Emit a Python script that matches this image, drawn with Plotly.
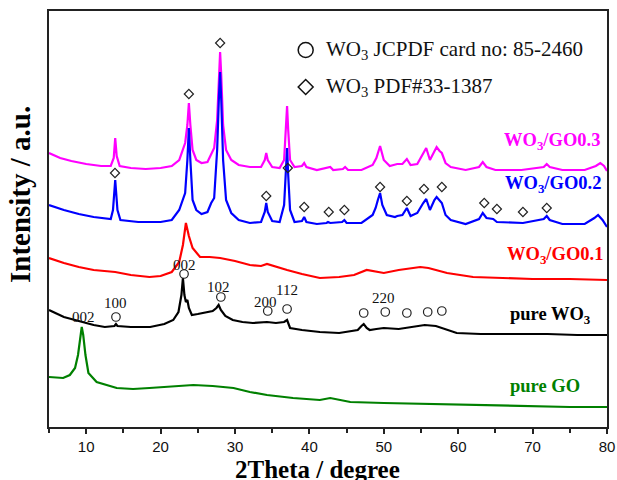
import plotly.graph_objects as go

# ---------------- data (2Theta in degrees, intensity in a.u., offset stacked) ----------------
go03_x = [5.0, 6.5, 8, 10, 12, 13.3, 13.7, 13.9, 14.1, 14.5, 16, 18, 20, 21.5, 22.5, 23.0, 23.3, 23.6, 23.8, 24.0,
          24.3, 24.8, 25.5, 26.3, 26.8, 27.2, 27.6, 27.85, 28.0, 28.15, 28.4, 28.8, 29.5, 30.5, 32, 33.5, 34.0, 34.2,
          34.4, 35, 36, 36.6, 36.85, 37.0, 37.15, 37.4, 38, 39.0, 39.3, 39.6, 41, 42.5, 42.8, 43.2, 44.5, 44.8, 45.2,
          47, 48.5, 49.0, 49.5, 50.0, 50.8, 51.8, 52.5, 53.1, 53.6, 54.5, 55.3, 55.7, 56.2, 56.8, 57.1, 57.5, 57.8,
          58.3, 59, 61, 62.8, 63.3, 63.8, 65, 68.5, 71.5, 71.9, 72.3, 74, 77, 78.5, 79.1, 79.6, 80]
go03_y = [274, 269, 266, 263, 261, 261, 269, 289, 271, 261, 259, 258, 259, 261, 267, 277, 284, 302, 324, 302,
          277, 267, 264, 265, 272, 279, 307, 357, 375, 352, 302, 277, 267, 262, 260, 260, 267, 274,
          267, 260, 259, 267, 297, 321, 297, 267, 260, 261, 264, 260, 257, 259, 260, 257, 258, 260, 257,
          257, 262, 269, 281, 267, 261, 263, 263, 268, 262, 263, 273, 279, 267, 275, 280, 276, 274,
          264, 260, 257, 260, 265, 260, 257, 257, 260, 263, 260, 257, 257, 261, 264, 261, 256]

go02_x = [5, 7, 9, 11, 13.3, 13.6, 13.9, 14.2, 14.6, 17, 20, 21.5, 22.5, 23.0, 23.3, 23.6, 23.8, 24.0, 24.3, 24.8,
          25.5, 26.3, 26.8, 27.2, 27.6, 27.85, 28.0, 28.15, 28.4, 28.8, 29.5, 30.5, 32, 33.5, 34.0, 34.2, 34.4, 35,
          36, 36.6, 36.85, 37.0, 37.15, 37.4, 38, 39.0, 39.3, 39.6, 41, 42.3, 42.5, 42.8, 44.4, 44.7, 45.0, 47, 48.5,
          48.9, 49.2, 49.5, 49.8, 50.4, 51.5, 51.8, 52.5, 53.1, 53.6, 54.5, 55.3, 55.7, 56.2, 56.8, 57.1, 57.5, 57.8,
          58.3, 59, 61, 62.8, 63.3, 63.8, 64.7, 65.2, 68.7, 71.5, 71.9, 72.3, 74, 77, 78.3, 78.8, 79.4, 80]
go02_y = [222, 217, 213, 210, 208, 217, 247, 217, 207, 205, 205, 207, 217, 227, 234, 267, 299, 267, 227, 217,
          213, 215, 224, 229, 277, 332, 355, 327, 267, 227, 214, 207, 204, 205, 215, 224, 215, 206,
          205, 222, 257, 279, 252, 217, 205, 206, 210, 205, 203, 204, 205, 204, 205, 207, 204, 204, 212,
          219, 227, 234, 222, 212, 210, 211, 212, 219, 211, 214, 224, 228, 217, 227, 230, 227, 224,
          212, 207, 203, 208, 214, 209, 208, 205, 204, 208, 211, 207, 203, 203, 209, 212, 207, 200]

go01_x = [5, 7, 9, 11, 13.9, 16, 18.5, 20, 21.5, 22.5, 23.0, 23.4, 23.8, 24.3, 25.3, 26.6, 28, 30, 32, 33.5, 34.3,
          35.5, 37, 39, 41.4, 44, 46, 47.7, 49, 50, 52, 54.9, 56, 58.5, 62, 66, 70, 75, 80]
go01_y = [169, 164, 160, 157, 155, 152, 150, 151, 155, 165, 182, 204, 191, 179, 170, 170, 169, 166, 162, 161, 163,
          160, 157, 153, 149, 150, 152, 157, 155, 154, 157, 160, 159, 154, 150, 149, 148, 148, 147]

wo3_x = [5, 7, 9, 11, 12.5, 13.8, 14.0, 14.2, 16, 18.6, 20.5, 21.7, 22.4, 22.8, 23.0, 23.2, 23.4, 23.6, 23.8, 24.2,
         25, 26.2, 27.0, 27.5, 27.8, 28.1, 28.7, 29.7, 31, 32.4, 34.3, 35.5, 36.6, 37.0, 37.4, 39, 41.4, 44, 46.5,
         47.0, 47.3, 47.7, 48.1, 49, 50, 52, 54, 55.5, 57, 57.9, 59, 59.8, 63, 67, 72, 76, 80]
wo3_y = [117, 110, 106, 102, 100, 101, 103, 101, 100, 100, 103, 107, 115, 132, 149, 132, 125, 127, 119, 112,
         113, 115, 116, 119, 122, 117, 111, 107, 105, 104, 105, 104, 105, 107, 99, 97, 95, 94, 97,
         101, 103, 99, 97, 98, 99, 98, 100, 102, 101, 99, 96, 94, 93, 93, 93, 92, 92]

go_x = [5, 6.9, 7.8, 8.5, 8.9, 9.2, 9.4, 9.6, 9.9, 10.3, 11.4, 14.1, 16.3, 18.5, 20.8, 24.4, 27, 29.8, 32, 34.3,
        37.8, 41.4, 42.8, 45.5, 50, 56.6, 60, 65.6, 70, 75, 80]
go_y = [50, 49, 52, 59, 72, 92, 100, 92, 72, 54, 45, 39, 38, 39, 40, 42, 41, 39, 35, 32,
        29, 27, 29, 25, 24, 23, 22, 21, 21, 20, 20]

# reference peak markers
diamond_x = [13.87, 23.8, 28.0, 34.2, 37.1, 39.3, 42.6, 44.7, 49.5, 53.1, 55.4, 57.8, 63.5, 65.2, 68.7, 71.9]
diamond_y = [254, 333, 384, 231, 259, 220, 215, 217, 240, 226, 238, 240, 224, 218, 215, 219]
circle_x = [23.15, 28.1, 14.0, 34.4, 37.0, 47.3, 50.2, 53.1, 55.9, 57.8]
circle_y = [153, 130, 110, 116, 118, 114, 115, 114, 115, 116]

hkl_text = ["002", "102", "200", "112", "100", "002", "220"]
hkl_x = [23.2, 27.8, 34.1, 37.05, 13.9, 9.6, 49.9]
hkl_y = [162, 140, 125.5, 137, 124, 110.5, 129]

series_names = ["WO<sub>3</sub>/GO0.3", "WO<sub>3</sub>/GO0.2", "WO<sub>3</sub>/GO0.1", "pure WO<sub>3</sub>", "pure GO"]
series_colors = ["#FF00FF", "#0000FF", "#FF0000", "#000000", "#008000"]
label_x = [79.3, 79.5, 79.7, 78.1, 76.6]
label_y = [286, 243, 172, 112, 41]

x_ticks = [10, 20, 30, 40, 50, 60, 70, 80]

SERIF = "Liberation Serif, Times New Roman, serif"
SANS = "Liberation Sans, Arial, sans-serif"

fig = go.Figure()
for xs, ys, col in zip([go03_x, go02_x, go01_x, wo3_x, go_x],
                       [go03_y, go02_y, go01_y, wo3_y, go_y], series_colors):
    fig.add_trace(go.Scatter(x=xs, y=ys, mode="lines", line=dict(color=col, width=2.2),
                             showlegend=False, hoverinfo="skip"))

fig.add_trace(go.Scatter(x=diamond_x, y=diamond_y, mode="markers",
                         marker=dict(symbol="diamond-open", size=7, color="#222", line=dict(width=1.2)),
                         showlegend=False))
fig.add_trace(go.Scatter(x=circle_x, y=circle_y, mode="markers",
                         marker=dict(symbol="circle-open", size=8.5, color="#222", line=dict(width=1.2)),
                         showlegend=False))

# legend symbols
fig.add_trace(go.Scatter(x=[39.5], y=[377], mode="markers",
                         marker=dict(symbol="circle-open", size=15, color="#111", line=dict(width=1.5)),
                         showlegend=False))
fig.add_trace(go.Scatter(x=[39.5], y=[340], mode="markers",
                         marker=dict(symbol="diamond-open", size=11.5, color="#111", line=dict(width=1.5)),
                         showlegend=False))

annotations = []
annotations.append(dict(x=41.9, y=377, xref="x", yref="y", xanchor="left", yanchor="middle", showarrow=False,
                        text="WO<sub>3</sub> JCPDF card no: 85-2460", font=dict(family=SERIF, size=21, color="#111")))
annotations.append(dict(x=41.9, y=340, xref="x", yref="y", xanchor="left", yanchor="middle", showarrow=False,
                        text="WO<sub>3</sub> PDF#33-1387", font=dict(family=SERIF, size=21, color="#111")))

for t, hx, hy in zip(hkl_text, hkl_x, hkl_y):
    annotations.append(dict(x=hx, y=hy, xref="x", yref="y", xanchor="center", yanchor="middle", showarrow=False,
                            text=t, font=dict(family=SERIF, size=15, color="#111")))

for name, col, lx, ly in zip(series_names, series_colors, label_x, label_y):
    annotations.append(dict(x=lx, y=ly, xref="x", yref="y", xanchor="right", yanchor="middle", showarrow=False,
                            text="<b>" + name + "</b>", font=dict(family=SERIF, size=18.5, color=col)))

annotations.append(dict(x=-0.052, y=0.56, xref="paper", yref="paper", xanchor="center", yanchor="middle",
                        showarrow=False, textangle=-90, text="<b>Intensity / a.u.</b>",
                        font=dict(family=SERIF, size=29, color="#000")))
annotations.append(dict(x=0.482, y=-0.103, xref="paper", yref="paper", xanchor="center", yanchor="middle",
                        showarrow=False, text="<b>2Theta / degree</b>",
                        font=dict(family=SERIF, size=25, color="#000")))

fig.update_layout(
    width=617, height=480,
    margin=dict(l=49, r=10, t=11, b=53, autoexpand=False),
    paper_bgcolor="white", plot_bgcolor="white",
    annotations=annotations,
    xaxis=dict(range=[5, 80], tickvals=x_ticks, ticks="outside", ticklen=5, tickwidth=1.5, tickcolor="#222",
               showline=True, linecolor="#222", linewidth=2, mirror=True, showgrid=False, zeroline=False,
               automargin=False,
               tickfont=dict(family=SANS, size=15, color="#111"),
               minor=dict(tickvals=[5, 15, 25, 35, 45, 55, 65, 75], ticks="outside", ticklen=4,
                          tickwidth=1.5, tickcolor="#222")),
    yaxis=dict(range=[0, 416], showticklabels=False, ticks="", showline=True, linecolor="#222", linewidth=2,
               mirror=True, showgrid=False, zeroline=False, automargin=False),
)

fig.write_html("out.html", config={"displayModeBar": False},
               post_script="document.body.style.margin='0';document.body.style.overflow='hidden';")
